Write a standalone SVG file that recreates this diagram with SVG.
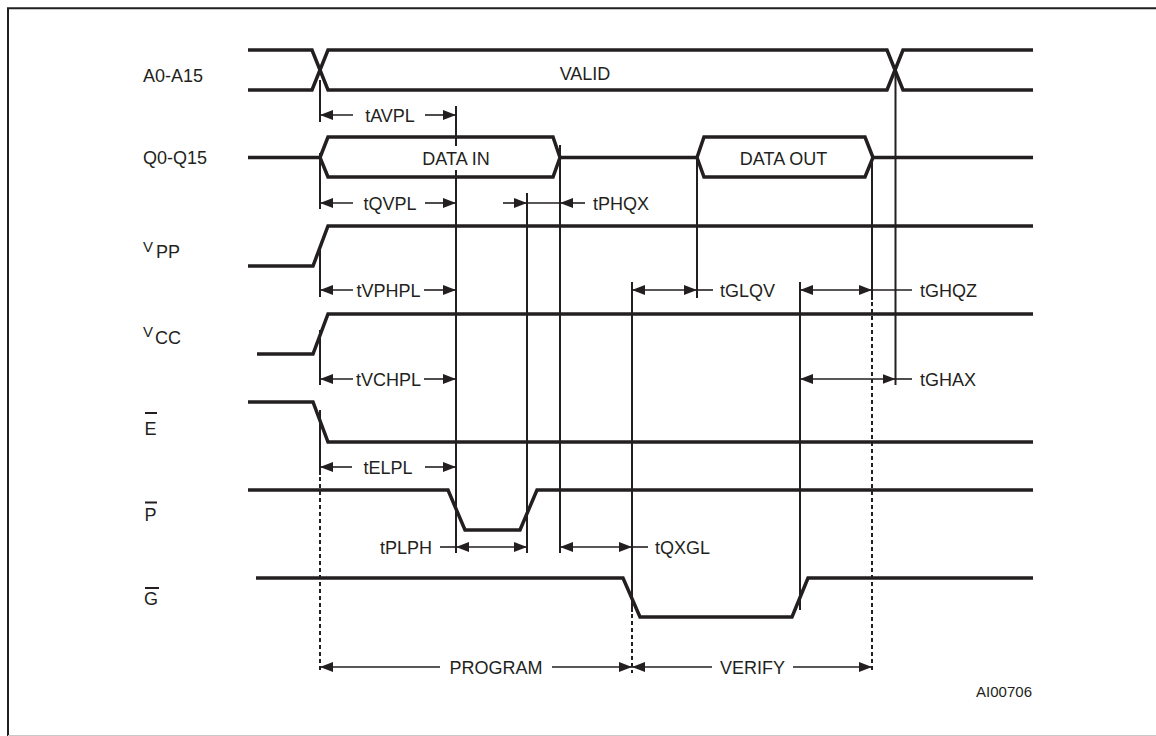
<svg xmlns="http://www.w3.org/2000/svg" width="1156" height="736" viewBox="0 0 1156 736">
<style>
text{font-family:"Liberation Sans",Arial,sans-serif;font-size:18px;fill:#231f20}
.sig{fill:none;stroke:#231f20;stroke-width:3.5;stroke-linejoin:miter}
.v{stroke:#231f20;stroke-width:2;fill:none}
.d{stroke:#231f20;stroke-width:2;fill:none;stroke-dasharray:4 3}
.a{stroke:#231f20;stroke-width:1.6;fill:none}
.ae{marker-end:url(#ah)}
.ab{marker-start:url(#ah);marker-end:url(#ah)}
.bar{stroke:#231f20;stroke-width:2}
.mid{text-anchor:middle}
</style>
<defs>
<marker id="ah" viewBox="0 0 13 10" refX="13" refY="5" markerWidth="13" markerHeight="10" markerUnits="userSpaceOnUse" orient="auto-start-reverse">
<path d="M0,0 L13,5 L0,10 z" fill="#231f20"/>
</marker>
</defs>
<rect width="1156" height="736" fill="#fff"/>
<g id="frame">
<path d="M8,736 V8.3 H1160" fill="none" stroke="#231f20" stroke-width="2"/>
<line x1="8" y1="735.5" x2="1156" y2="735.5" stroke="#c8c8c8" stroke-width="1"/>
</g>

<g id="sig-a">
<text x="143" y="81.7">A0-A15</text>
<path class="sig" d="M248,50 H312 L328,90 H887 L903,50 H1033"/>
<path class="sig" d="M248,90 H312 L328,50 H887 L903,90 H1033"/>
<text class="mid" x="585" y="80">VALID</text>
</g>

<g id="sig-q">
<text x="143" y="163.5">Q0-Q15</text>
<path class="sig" d="M248,157.5 H320"/>
<path class="sig" d="M320,157.5 L328,137 H553 L560,157.5 L553,177 H328 Z"/>
<path class="sig" d="M560,157.5 H697"/>
<path class="sig" d="M697,157.5 L704,137 H865 L873,157.5 L865,177 H704 Z"/>
<path class="sig" d="M873,157.5 H1033"/>
<text class="mid" x="456" y="165">DATA IN</text>
<text class="mid" x="783.5" y="165">DATA OUT</text>
</g>

<g id="sig-vpp">
<text x="143" y="252" style="font-size:15px">V</text>
<text x="156" y="258">PP</text>
<path class="sig" d="M248,266 H313 L328,226 H1033"/>
</g>

<g id="sig-vcc">
<text x="143" y="337" style="font-size:15px">V</text>
<text x="155" y="343.5">CC</text>
<path class="sig" d="M257,354 H313 L328,314 H1033"/>
</g>

<g id="sig-e">
<line class="bar" x1="145" y1="413" x2="157" y2="413"/>
<text x="144.5" y="434.5">E</text>
<path class="sig" d="M248,402 H313 L328,442 H1033"/>
</g>

<g id="sig-p">
<line class="bar" x1="145" y1="502.5" x2="157" y2="502.5"/>
<text x="144.5" y="520.8">P</text>
<path class="sig" d="M248,490 H448 L465,530 H520 L537,490 H1033"/>
</g>

<g id="sig-g">
<line class="bar" x1="145" y1="588" x2="159" y2="588"/>
<text x="144" y="605">G</text>
<path class="sig" d="M256,578 H623 L640,617 H792 L808,578 H1033"/>
</g>

<g id="connectors">
<line class="v" x1="320" y1="80" x2="320" y2="122"/>
<line class="v" x1="320" y1="153" x2="320" y2="209"/>
<line class="v" x1="320" y1="247" x2="320" y2="297"/>
<line class="v" x1="320" y1="330" x2="320" y2="385"/>
<line class="v" x1="320" y1="410" x2="320" y2="475"/>
<line class="d" x1="320" y1="477" x2="320" y2="673"/>
<line class="v" x1="456" y1="106" x2="456" y2="146"/>
<line class="v" x1="456" y1="170" x2="456" y2="553"/>
<line class="v" x1="527" y1="193" x2="527" y2="553"/>
<line class="v" x1="560" y1="145" x2="560" y2="553"/>
<line class="v" x1="632" y1="282" x2="632" y2="612"/>
<line class="d" x1="632" y1="614" x2="632" y2="673"/>
<line class="v" x1="697" y1="158" x2="697" y2="298"/>
<line class="v" x1="800" y1="282" x2="800" y2="610"/>
<line class="v" x1="872" y1="158" x2="872" y2="300"/>
<line class="d" x1="872" y1="302" x2="872" y2="673"/>
<line class="v" x1="895.5" y1="73" x2="895.5" y2="385"/>

<line class="a ae" x1="353" y1="115" x2="320" y2="115"/>
<line class="a ae" x1="425" y1="115" x2="456" y2="115"/>
<text class="mid" x="390" y="121.5">tAVPL</text>

<line class="a ae" x1="353" y1="203" x2="320" y2="203"/>
<line class="a ae" x1="425" y1="203" x2="456" y2="203"/>
<text class="mid" x="390" y="209.5">tQVPL</text>

<line class="a ae" x1="503" y1="203" x2="527" y2="203"/>
<line class="a" x1="527" y1="203" x2="560" y2="203"/>
<line class="a ae" x1="585" y1="203" x2="560" y2="203"/>
<text x="593" y="209.5">tPHQX</text>

<line class="a ae" x1="353" y1="290" x2="320" y2="290"/>
<line class="a ae" x1="424" y1="290" x2="456" y2="290"/>
<text class="mid" x="388.5" y="296.5">tVPHPL</text>

<line class="a ab" x1="632" y1="290" x2="697" y2="290"/>
<line class="a" x1="697" y1="290" x2="713" y2="290"/>
<text x="720" y="297">tGLQV</text>

<line class="a ab" x1="800" y1="290" x2="872" y2="290"/>
<line class="a" x1="872" y1="290" x2="912" y2="290"/>
<text x="920" y="297">tGHQZ</text>

<line class="a ae" x1="353" y1="379" x2="320" y2="379"/>
<line class="a ae" x1="424" y1="379" x2="456" y2="379"/>
<text class="mid" x="388.5" y="385.5">tVCHPL</text>

<line class="a ab" x1="800" y1="379" x2="895.5" y2="379"/>
<line class="a" x1="895.5" y1="379" x2="912" y2="379"/>
<text x="920" y="385.5">tGHAX</text>

<line class="a ae" x1="352" y1="467" x2="320" y2="467"/>
<line class="a ae" x1="425" y1="467" x2="456" y2="467"/>
<text class="mid" x="388" y="473.5">tELPL</text>

<line class="a" x1="440" y1="547" x2="456" y2="547"/>
<line class="a ab" x1="456" y1="547" x2="527" y2="547"/>
<text x="432" y="553.5" style="text-anchor:end">tPLPH</text>

<line class="a ab" x1="560" y1="547" x2="632" y2="547"/>
<line class="a" x1="632" y1="547" x2="648" y2="547"/>
<text x="655" y="553.5">tQXGL</text>

<line class="a ae" x1="440" y1="667" x2="320" y2="667"/>
<line class="a ae" x1="552" y1="667" x2="632" y2="667"/>
<text class="mid" x="496" y="673.5">PROGRAM</text>

<line class="a ae" x1="712" y1="667" x2="632" y2="667"/>
<line class="a ae" x1="793" y1="667" x2="872" y2="667"/>
<text class="mid" x="752.5" y="673.5">VERIFY</text>
</g>
<text x="1032" y="697" style="font-size:15px;text-anchor:end">AI00706</text>
</svg>
